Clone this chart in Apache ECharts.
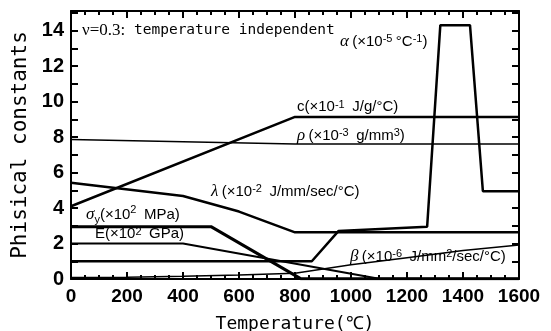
<!DOCTYPE html>
<html>
<head>
<meta charset="utf-8">
<script src="https://cdn.jsdelivr.net/npm/echarts@6/dist/echarts.min.js"></script>
<style>
  html, body { margin: 0; padding: 0; background: #fff; }
  #chart { width: 551px; height: 331px; }
</style>
</head>
<body>
<div id="chart"></div>
<script>
// Temperature-dependent material constants (piecewise linear)
const alphaT  = [0, 860, 955, 1272, 1319, 1425, 1471, 1600];
const alphaV  = [1.0, 1.0, 2.7, 2.95, 14.3, 14.3, 4.95, 4.95];
const cT      = [0, 800, 1600];
const cV      = [4.1, 9.13, 9.13];
const rhoT    = [0, 800, 1600];
const rhoV    = [7.86, 7.6, 7.6];
const lambdaT = [0, 400, 600, 800, 1600];
const lambdaV = [5.42, 4.68, 3.8, 2.63, 2.63];
const sigmaT  = [0, 500, 820, 1600];
const sigmaV  = [2.95, 2.95, 0.02, 0.02];
const eT      = [0, 400, 1100, 1600];
const eV      = [2.0, 2.0, 0.02, 0.02];
const betaT   = [0, 200, 400, 600, 800, 1000, 1200, 1400, 1600];
const betaV   = [0.08, 0.1, 0.15, 0.22, 0.32, 0.8, 1.2, 1.6, 1.92];

const xTicks = [0, 200, 400, 600, 800, 1000, 1200, 1400, 1600];
const yTicks = [0, 2, 4, 6, 8, 10, 12, 14];

function pairs(t, v) { return t.map((x, i) => [x, v[i]]); }

const chart = echarts.init(document.getElementById('chart'), null, { renderer: 'canvas' });

const tickFont = '"Liberation Sans Narrow", "Liberation Sans", sans-serif';
const monoFont = '"DejaVu Sans Mono", "Liberation Mono", monospace';
const labFont = '"Liberation Sans", "DejaVu Sans", sans-serif';
const serif = '"Liberation Serif", "DejaVu Serif", serif';

function lineSeries(name, t, v, w) {
  return {
    name, type: 'line', data: pairs(t, v), showSymbol: false, symbol: 'none',
    lineStyle: { color: '#000', width: w }, z: 3, silent: true, animation: false
  };
}

const boxAxisX = {
  type: 'value', min: 0, max: 1600, interval: 200,
  axisLine: { show: true, onZero: false, lineStyle: { color: '#000', width: 2 } },
  axisTick: { show: true, inside: true, length: 7, lineStyle: { color: '#000', width: 2 } },
  minorTick: { show: true, splitNumber: 4, length: 4, lineStyle: { color: '#000', width: 2 } },
  splitLine: { show: false }
};
const boxAxisY = {
  type: 'value', min: 0, max: 15.1, interval: 1,
  axisLine: { show: true, onZero: false, lineStyle: { color: '#000', width: 2 } },
  axisTick: { show: true, inside: true, length: 7, lineStyle: { color: '#000', width: 2 } },
  splitLine: { show: false }
};

// label text with superscripts via rich styles
const rich = {
  t: { fontFamily: labFont, fontSize: 15, color: '#000' },
  g: { fontFamily: serif, fontSize: 17, fontStyle: 'italic', color: '#000' },
  s: { fontFamily: labFont, fontSize: 11, color: '#000', verticalAlign: 'top' },
  b: { fontFamily: labFont, fontSize: 11, color: '#000', verticalAlign: 'bottom', padding: [10, 0, 0, 0] }
};
function note(x, y, text) {
  return { type: 'text', left: x, top: y, z: 10, style: { text, rich, fill: '#000' } };
}

chart.setOption({
  animation: false,
  backgroundColor: '#fff',
  grid: { left: 71, right: 32, top: 11, bottom: 52, outerBoundsMode: 'none', containLabel: false },
  xAxis: [
    Object.assign({}, boxAxisX, {
      position: 'bottom',
      name: 'Temperature(℃)', nameLocation: 'middle', nameGap: 36,
      nameTextStyle: { fontFamily: monoFont, fontSize: 18, color: '#000' },
      axisLabel: {
        color: '#000', fontFamily: tickFont, fontSize: 19, fontWeight: 'bold', margin: 8,
        formatter: v => (xTicks.indexOf(v) >= 0 ? String(v) : '')
      }
    }),
    Object.assign({}, boxAxisX, { position: 'top', axisLabel: { show: false } })
  ],
  yAxis: [
    Object.assign({}, boxAxisY, {
      position: 'left',
      name: 'Phisical constants', nameLocation: 'middle', nameGap: 40,
      nameTextStyle: { fontFamily: monoFont, fontSize: 21, color: '#000' },
      axisLabel: {
        color: '#000', fontFamily: tickFont, fontSize: 20, fontWeight: 'bold', margin: 7,
        formatter: v => (yTicks.indexOf(v) >= 0 ? String(v) : '')
      }
    }),
    Object.assign({}, boxAxisY, { position: 'right', axisLabel: { show: false } })
  ],
  series: [
    lineSeries('alpha', alphaT, alphaV, 2.5),
    lineSeries('c', cT, cV, 2.5),
    lineSeries('rho', rhoT, rhoV, 1.5),
    lineSeries('lambda', lambdaT, lambdaV, 2.5),
    lineSeries('sigma_y', sigmaT, sigmaV, 3),
    lineSeries('E', eT, eV, 2),
    lineSeries('beta', betaT, betaV, 1.5)
  ],
  graphic: [
    { type: 'text', left: 82, top: 22, z: 10, style: {
        text: '{g|ν=0.3:}{m| temperature independent}',
        rich: {
          g: { fontFamily: serif, fontSize: 17, color: '#000' },
          m: { fontFamily: monoFont, fontSize: 14.5, color: '#000' }
        } } },
    note(340, 33, '{g|α} {t|(×10}{s|-5} {t|°C}{s|-1}{t|)}'),
    note(297, 99, '{t|c(×10}{s|-1} {t| J/g/°C)}'),
    note(297, 127, '{g|ρ} {t|(×10}{s|-3} {t| g/mm}{s|3}{t|)}'),
    note(211, 183, '{g|λ} {t|(×10}{s|-2} {t| J/mm/sec/°C)}'),
    note(86, 204, '{g|σ}{b|y}{t|(×10}{s|2} {t| MPa)}'),
    note(95, 226, '{t|E(×10}{s|2} {t| GPa)}'),
    note(350, 248, '{g|β} {t|(×10}{s|-6} {t| J/mm}{s|2}{t|/sec/°C)}')
  ]
});
</script>
</body>
</html>
